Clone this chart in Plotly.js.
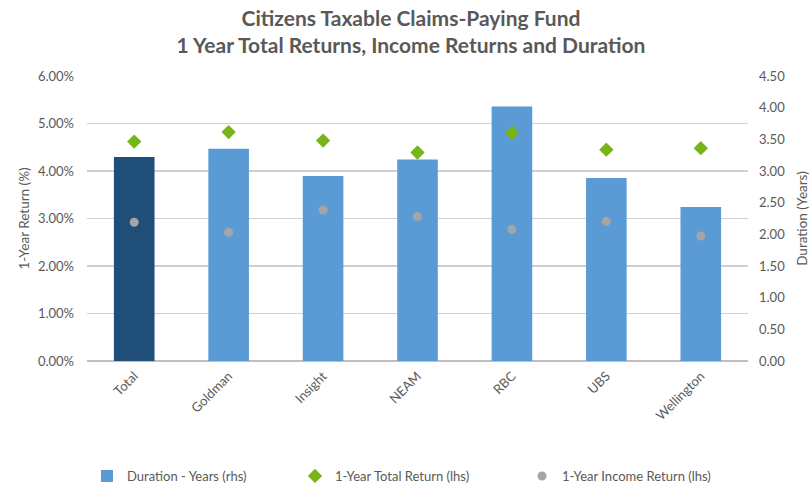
<!DOCTYPE html>
<html>
<head>
<meta charset="utf-8">
<script src="https://cdn.plot.ly/plotly-3.0.1.min.js"></script>
<style>html,body{margin:0;padding:0;background:#fff;}#chart{width:810px;height:486px;}</style>
</head>
<body>
<div id="chart"></div>
<script>
const categories = ["Total", "Goldman", "Insight", "NEAM", "RBC", "UBS", "Wellington"];
const durationYears = [3.22, 3.35, 2.92, 3.18, 4.02, 2.89, 2.43];
const totalReturn = [4.62, 4.82, 4.64, 4.39, 4.80, 4.45, 4.48];
const incomeReturn = [2.92, 2.71, 3.18, 3.04, 2.77, 2.94, 2.63];
const leftTicks = [0, 1, 2, 3, 4, 5, 6];
const rightTicks = [0, 0.5, 1, 1.5, 2, 2.5, 3, 3.5, 4, 4.5];

const font = "Lato, 'Open Sans', sans-serif";
const txt = "#595959";

const traces = [
  {
    type: "bar", name: "Duration - Years (rhs)", x: categories.slice(1), y: durationYears.slice(1),
    yaxis: "y", marker: {color: "#5B9BD5"}, width: 0.43, legend: "legend"
  },
  {
    type: "bar", name: "Duration - Years (rhs)", x: categories.slice(0, 1), y: durationYears.slice(0, 1),
    yaxis: "y", marker: {color: "#1F4E79"}, width: 0.43, showlegend: false
  },
  {
    type: "scatter", mode: "markers", name: "1-Year Total Return (lhs)", x: categories, y: totalReturn,
    yaxis: "y2", marker: {symbol: "diamond", size: 11, color: "#77B41A"}, legend: "legend2"
  },
  {
    type: "scatter", mode: "markers", name: "1-Year Income Return (lhs)", x: categories, y: incomeReturn,
    yaxis: "y2", marker: {symbol: "circle", size: 9, color: "#A5A5A5"}, legend: "legend3"
  }
];

function leg(xpx) {
  return {
    orientation: "h", xref: "container", yref: "container", x: xpx / 810, xanchor: "left",
    y: 1 - 476 / 486, yanchor: "middle", font: {size: 13, color: txt}, bgcolor: "rgba(0,0,0,0)"
  };
}

const layout = {
  width: 810, height: 486,
  margin: {l: 87, r: 62, t: 76, b: 124.5},
  paper_bgcolor: "#fff", plot_bgcolor: "#fff",
  font: {family: font, color: txt, size: 13},
  barmode: "overlay",
  xaxis: {
    type: "category", categoryorder: "array", categoryarray: categories,
    tickangle: -45, showgrid: false, showline: false,
    ticks: "", tickfont: {size: 13, color: txt}, zeroline: false, ticklabelstandoff: 4
  },
  title: {
    text: "<b>Citizens Taxable Claims-Paying Fund<br>1 Year Total Returns, Income Returns and Duration</b>",
    x: 411 / 810, xanchor: "center", y: 0.947, yanchor: "middle",
    font: {family: font, size: 21, color: txt}
  },
  showlegend: true,
  legend: leg(87),
  legend2: leg(295),
  legend3: leg(522),
  yaxis: {
    range: [0, 4.5], side: "right", tickvals: rightTicks,
    ticktext: rightTicks.map(v => v.toFixed(2)),
    showgrid: false, zeroline: false, showline: false, ticks: "",
    tickfont: {size: 13, color: txt}, ticklabelstandoff: 10,
    title: {text: "Duration (Years)", font: {size: 13.5, color: txt}, standoff: 16}
  },
  yaxis2: {
    range: [0, 6], overlaying: "y", side: "left", tickvals: leftTicks, ticktext: leftTicks.map(v => v.toFixed(2) + "%"),
    showgrid: true, gridcolor: "#CFCFCF", gridwidth: 1.3, zeroline: true, zerolinecolor: "#BFBFBF", zerolinewidth: 1.5,
    showline: false, ticks: "", tickfont: {size: 13, color: txt}, ticklabelstandoff: 12,
    title: {text: "1-Year Return (%)", font: {size: 13.5, color: txt}, standoff: 5}
  }
};

Plotly.newPlot("chart", traces, layout, {displayModeBar: false, staticPlot: true});
</script>
</body>
</html>
